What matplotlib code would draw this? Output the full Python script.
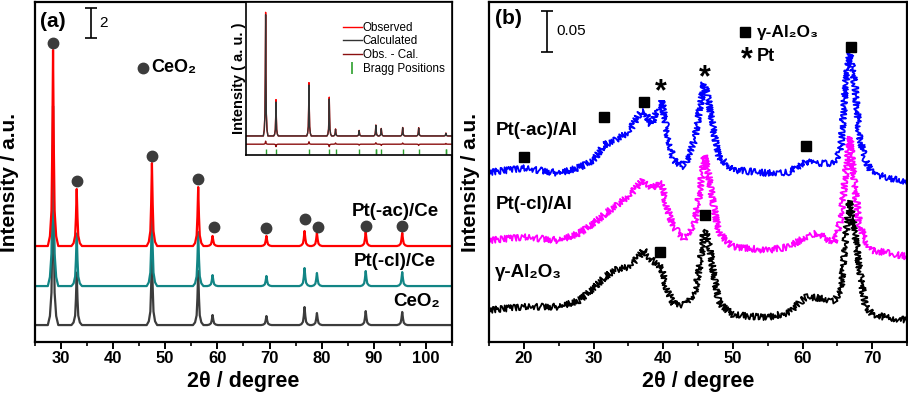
import numpy as np
import matplotlib.pyplot as plt
from matplotlib.lines import Line2D

plt.rcParams['font.family'] = ['Liberation Sans', 'DejaVu Sans']
plt.rcParams['font.weight'] = 'bold'
plt.rcParams['axes.labelweight'] = 'bold'

# ---------------- panel (a): CeO2 based samples ----------------
ce_pos = [28.55, 33.08, 47.48, 56.34, 59.09, 69.40, 76.70, 79.07, 88.41, 95.40]
h_ceo2 = [12.0, 3.5, 5.0, 3.6, 0.67, 0.60, 1.20, 0.80, 0.93, 0.87]
h_ptcl = [12.0, 3.5, 5.0, 3.6, 0.73, 0.67, 1.20, 0.87, 1.00, 0.93]
h_ptac = [13.07, 3.80, 5.53, 3.93, 0.67, 0.67, 1.00, 0.87, 0.93, 0.87]
base_ceo2, base_ptcl, base_ptac = 1.13, 3.73, 6.40

# circles marking CeO2 reflections
dot_x = [28.55, 33.08, 47.48, 56.34, 59.35, 69.40, 76.70, 79.35, 88.41, 95.40]
dot_y = [19.93, 10.73, 12.40, 10.87, 7.67, 7.60, 8.20, 7.67, 7.73, 7.73]

# inset: Rietveld refinement
ins_pos = [28.55, 33.08, 47.48, 56.34, 59.09, 69.40, 76.70, 79.07, 88.41, 95.40, 107.3]
ins_calc = [1.00, 0.28, 0.42, 0.305, 0.055, 0.044, 0.088, 0.060, 0.068, 0.066, 0.022]
ins_obs = [1.02, 0.30, 0.44, 0.32, 0.058, 0.046, 0.090, 0.062, 0.070, 0.068, 0.024]
ins_diff = [0.025, -0.02, 0.02, -0.02, 0.01, -0.008, 0.012, -0.01, 0.01, -0.01, 0.006]
bragg_pos = [28.55, 33.08, 47.48, 56.34, 59.09, 69.40, 76.55, 76.85, 79.07, 88.41,
             95.40, 107.15, 107.45]

# peak shape used for the sharp reflections (offset in deg, fraction of height)
shape_dx = [-1.0, -0.6, -0.3, -0.15, 0.0, 0.15, 0.3, 0.6, 1.0]
shape_f = [0.0, 0.05, 0.18, 0.5, 1.0, 0.5, 0.18, 0.05, 0.0]

# ---------------- panel (b): Al2O3 based samples ----------------
b_x = [15, 20, 25, 28, 30, 31.5, 33, 35, 36.5, 37.2, 38.3, 39.3, 39.8, 40.5, 41.5, 43,
       44.5, 45.3, 45.9, 46.5, 47.2, 48, 50, 55, 58, 60.5, 62, 64.5, 65.5, 66.2, 66.8,
       67.5, 68.2, 69, 70, 72, 75]
b_ptac = [.207, .212, .206, .213, .222, .240, .246, .255, .277, .283, .265, .285, .295,
          .258, .222, .213, .246, .287, .316, .295, .259, .226, .210, .206, .207, .220,
          .218, .218, .234, .316, .352, .315, .250, .222, .206, .201, .195]
b_ptcl = [.124, .128, .124, .133, .145, .155, .165, .177, .192, .198, .188, .194, .192,
          .165, .140, .126, .145, .185, .228, .205, .168, .133, .116, .112, .116, .128,
          .133, .121, .149, .205, .250, .190, .143, .124, .112, .109, .104]
b_al2o3 = [.039, .043, .043, .051, .066, .078, .088, .091, .104, .112, .100, .095, .088,
           .065, .047, .045, .060, .095, .137, .125, .085, .048, .033, .030, .036, .055,
           .054, .050, .063, .128, .172, .135, .088, .045, .034, .030, .027]

sq_x = [20.0, 31.5, 37.2, 60.5, 67.0, 46.0, 39.5]
sq_y = [0.226, 0.274, 0.293, 0.239, 0.360, 0.155, 0.110]
star_x = [39.7, 46.0]
star_y = [0.305, 0.322]


def pattern(pos, heights, base, x0, x1):
    xs, ys = [x0], [base]
    for p, h in zip(pos, heights):
        for d, f in zip(shape_dx, shape_f):
            xs.append(p + d)
            ys.append(base + h * f)
    xs.append(x1)
    ys.append(base)
    return xs, ys


fig = plt.figure(figsize=(9.08, 3.98), dpi=100)

# ======== (a) ========
ax1 = fig.add_axes([0.038, 0.1407, 0.4602, 0.8543])
for base, hh, col in [(base_ceo2, h_ceo2, '#3c3c3c'), (base_ptcl, h_ptcl, '#128585'),
                      (base_ptac, h_ptac, '#ff0000')]:
    xs, ys = pattern(ce_pos, hh, base, 25, 105)
    ax1.plot(xs, ys, color=col, lw=1.6)
ax1.plot(dot_x, dot_y, 'o', color='#3c3c3c', ms=7.5)
ax1.plot([45.8], [18.3], 'o', color='#3c3c3c', ms=7.5)
ax1.text(47.4, 18.3, 'CeO₂', fontsize=13, va='center')
ax1.text(26.0, 21.4, '(a)', fontsize=15, va='center')
ax1.errorbar([35.8], [21.27], yerr=[1.0], color='k', capsize=4, lw=1.2, capthick=1.2)
ax1.text(37.3, 21.27, '2', fontsize=11, fontweight='normal', va='center')
ax1.text(102.5, 8.73, 'Pt(-ac)/Ce', fontsize=13.5, ha='right', va='center')
ax1.text(101.8, 5.4, 'Pt(-cl)/Ce', fontsize=13.5, ha='right', va='center')
ax1.text(102.7, 2.67, 'CeO₂', fontsize=13.5, ha='right', va='center')
ax1.set_xlim(25, 105)
ax1.set_ylim(0, 22.67)
ax1.set_xticks(np.arange(30, 101, 10))
ax1.set_xticks(np.arange(25, 106, 5), minor=True)
ax1.set_yticks([])
ax1.set_xlabel('2θ / degree', fontsize=15.5)
ax1.set_ylabel('Intensity / a.u.', fontsize=15)
ax1.xaxis.set_label_coords(0.5, -0.085)
ax1.yaxis.set_label_coords(-0.037, 0.468)

# inset
axi = fig.add_axes([0.271, 0.6106, 0.2269, 0.3844])
xs, ys = pattern(ins_pos, ins_obs, 0.0, 20, 110)
axi.plot(xs, ys, color='#ff0000', lw=1.0)
xs, ys = pattern(ins_pos, ins_calc, 0.0, 20, 110)
axi.plot(xs, ys, color='#333333', lw=1.0)
xs, ys = pattern(ins_pos, ins_diff, -0.068, 20, 110)
axi.plot(xs, ys, color='#8b1010', lw=1.0)
axi.vlines(bragg_pos, -0.145, -0.105, color='#2ca02c', lw=1.0)
axi.set_xlim(20, 110)
axi.set_ylim(-0.157, 1.105)
axi.set_xticks([])
axi.set_yticks([])
axi.set_ylabel('Intensity ( a. u. )', fontsize=10.5, labelpad=0)
handles = [Line2D([], [], color='#ff0000', lw=1.0),
           Line2D([], [], color='#333333', lw=1.0),
           Line2D([], [], color='#8b1010', lw=1.0),
           Line2D([], [], color='#2ca02c', marker='|', ls='none', ms=8, mew=1.2)]
axi.legend(handles, ['Observed', 'Calculated', 'Obs. - Cal.', 'Bragg Positions'],
           loc='upper right', bbox_to_anchor=(1.015, 0.94), frameon=False,
           prop={'size': 8.4, 'weight': 'normal'}, handlelength=1.6, handletextpad=0.1,
           labelspacing=0.15)
for sp in axi.spines.values():
    sp.set_linewidth(1.2)

# ======== (b) ========
ax2 = fig.add_axes([0.5386, 0.1407, 0.4603, 0.8543])
for vals, col in [(b_al2o3, 'black'), (b_ptcl, '#ff00ff'), (b_ptac, '#0000ff')]:
    ln, = ax2.plot(b_x, vals, color=col, lw=1.3)
    ln.set_sketch_params(scale=3.2, length=1.2, randomness=2)
ax2.plot(sq_x, sq_y, 's', color='black', ms=7)
for x, y in zip(star_x, star_y):
    ax2.text(x, y, '*', fontsize=22, ha='center', va='center')
ax2.plot([51.8], [0.378], 's', color='black', ms=7)
ax2.text(52.0, 0.343, '*', fontsize=22, ha='center', va='center')
ax2.text(53.5, 0.378, 'γ-Al₂O₃', fontsize=12.5, va='center')
ax2.text(53.5, 0.348, 'Pt', fontsize=13, va='center')
ax2.text(15.9, 0.394, '(b)', fontsize=15, va='center')
ax2.errorbar([23.3], [0.379], yerr=[0.025], color='k', capsize=4, lw=1.2, capthick=1.2)
ax2.text(24.6, 0.379, '0.05', fontsize=11, fontweight='normal', va='center')
ax2.text(15.9, 0.258, 'Pt(-ac)/Al', fontsize=13.5, va='center')
ax2.text(15.9, 0.168, 'Pt(-cl)/Al', fontsize=13.5, va='center')
ax2.text(15.9, 0.085, 'γ-Al₂O₃', fontsize=13.5, va='center')
ax2.set_xlim(15, 75)
ax2.set_ylim(0, 0.4146)
ax2.set_xticks(np.arange(20, 71, 10))
ax2.set_xticks(np.arange(15, 76, 5), minor=True)
ax2.set_yticks([])
ax2.set_xlabel('2θ / degree', fontsize=15.5)
ax2.set_ylabel('Intensity / a.u.', fontsize=15)
ax2.xaxis.set_label_coords(0.5, -0.085)
ax2.yaxis.set_label_coords(-0.022, 0.468)

for ax in (ax1, ax2):
    for sp in ax.spines.values():
        sp.set_linewidth(1.6)
    ax.tick_params(axis='x', which='major', direction='out', length=5, width=1.4,
                   labelsize=12, pad=1.5)
    ax.tick_params(axis='x', which='minor', direction='out', length=3, width=1.2)
    for lab in ax.get_xticklabels():
        lab.set_fontweight('bold')

fig.savefig('out.png', dpi=100)
